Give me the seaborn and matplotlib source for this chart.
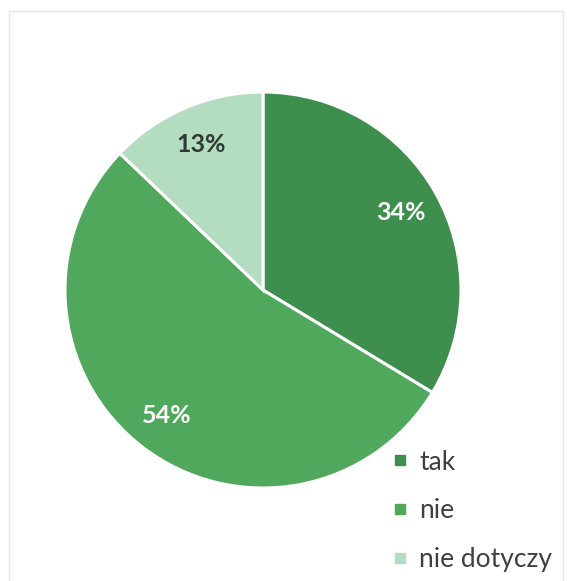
import matplotlib
matplotlib.use("Agg")
import matplotlib.pyplot as plt
import seaborn as sns
from matplotlib.patches import Rectangle
from matplotlib.lines import Line2D

categories = ["tak", "nie", "nie dotyczy"]
shares = [34, 54, 13]
colors = ["#3e8f4d", "#4fa85b", "#b4dcc1"]
label_colors = ["white", "white", "#2e3a32"]

sns.set_theme(style="white")
plt.rcParams["font.family"] = ["Lato", "DejaVu Sans"]

W, H = 567, 581
fig = plt.figure(figsize=(W / 100, H / 100), dpi=100)
fig.patch.set_facecolor("white")

# faint frame around the chart area
fig.add_artist(Rectangle((9 / W, -0.02), (563 - 9) / W, (H - 11) / H + 0.02,
                         transform=fig.transFigure, fill=False,
                         edgecolor="#e6e6e6", linewidth=1.0))

cx, cy, r = 263, 290, 198
ax = fig.add_axes([(cx - r) / W, (H - cy - r) / H, 2 * r / W, 2 * r / H])
wedges, texts, autotexts = ax.pie(
    shares, colors=colors, startangle=90, counterclock=False,
    autopct=lambda p: "", pctdistance=0.8,
    wedgeprops=dict(edgecolor="white", linewidth=2.2),
)
for t, val, c in zip(autotexts, shares, label_colors):
    t.set_text(f"{val}%")
    t.set_color(c)
    t.set_fontsize(18)
    t.set_fontweight("bold")
ax.set_xlim(-1, 1)
ax.set_ylim(-1, 1)
ax.set_aspect("equal")
ax.axis("off")

# legend entries stacked at lower right
handles = [Line2D([], [], marker="s", linestyle="none", markersize=7,
                  markerfacecolor=c, markeredgecolor=c) for c in colors]
leg = fig.legend(handles, categories, loc="upper left",
                 bbox_to_anchor=(382 / W, 1 - 439 / H), frameon=False,
                 fontsize=19, labelspacing=0.9, handlelength=0.6,
                 handletextpad=0.4, borderaxespad=0)
for t in leg.get_texts():
    t.set_color("#404040")

fig.savefig("out.png", dpi=100, facecolor="white")
